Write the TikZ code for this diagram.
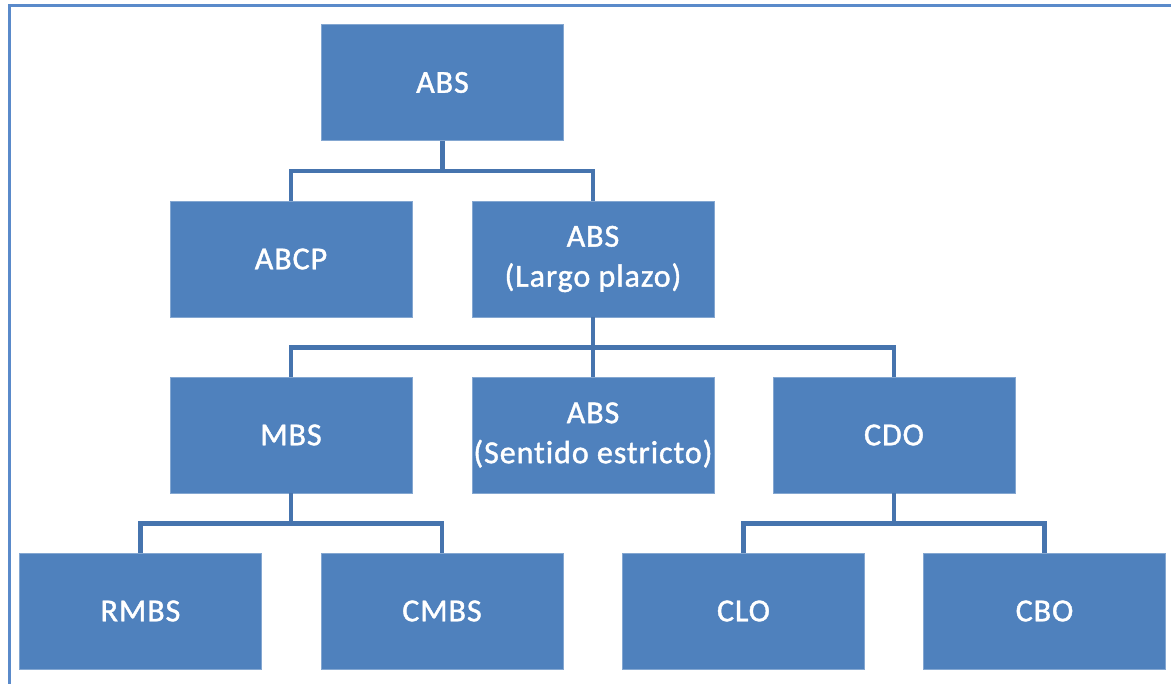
\documentclass[tikz,border=0pt]{standalone}
\usepackage{fontspec}
\setmainfont{Carlito}[Ligatures=NoCommon, FakeBold=1.3, LetterSpace=3]
\definecolor{boxblue}{HTML}{4F81BD}
\definecolor{lineblue}{HTML}{4674AE}
\definecolor{frameblue}{HTML}{5A8ACA}
\begin{document}
\begin{tikzpicture}[x=1pt,y=-1pt,
  orgbox/.style={rectangle, fill=boxblue, draw=boxblue!70!white, line width=0.6pt,
    minimum width=242pt, minimum height=116pt, inner sep=0pt,
    text=white, align=center, font=\fontsize{32}{40}\selectfont},
  link/.style={draw=lineblue, line width=4.5pt}]
\useasboundingbox (0,0) rectangle (1171,684);
\fill[white] (0,0) rectangle (1171,684);
\draw[frameblue, line width=3pt] (9.5,684) -- (9.5,5.5) -- (1171,5.5);

\node[orgbox] (abs) at (442.5,82.5) {ABS};
\node[orgbox] (abcp) at (291,259) {ABCP};
\node[orgbox] (absl) at (593,259) {ABS\\(Largo plazo)};
\node[orgbox] (mbs) at (291,435) {MBS};
\node[orgbox] (abss) at (593,435) {ABS\\(Sentido estricto)};
\node[orgbox] (cdo) at (894,435) {CDO};
\node[orgbox] (rmbs) at (140.5,611) {RMBS};
\node[orgbox] (cmbs) at (442,611) {CMBS};
\node[orgbox] (clo) at (743.5,611) {CLO};
\node[orgbox] (cbo) at (1044.5,611) {CBO};

\draw[link] (abs.south) -- ++(0,30) coordinate (j1);
\draw[link] (abcp.north) |- (j1) -| (absl.north);

\draw[link] (absl.south) -- ++(0,30) coordinate (j2);
\draw[link] (mbs.north) |- (j2) -| (cdo.north);
\draw[link] (j2) -- (abss.north);

\draw[link] (mbs.south) -- ++(0,30) coordinate (j3);
\draw[link] (rmbs.north) |- (j3) -| (cmbs.north);

\draw[link] (cdo.south) -- ++(0,30) coordinate (j4);
\draw[link] (clo.north) |- (j4) -| (cbo.north);
\end{tikzpicture}
\end{document}
